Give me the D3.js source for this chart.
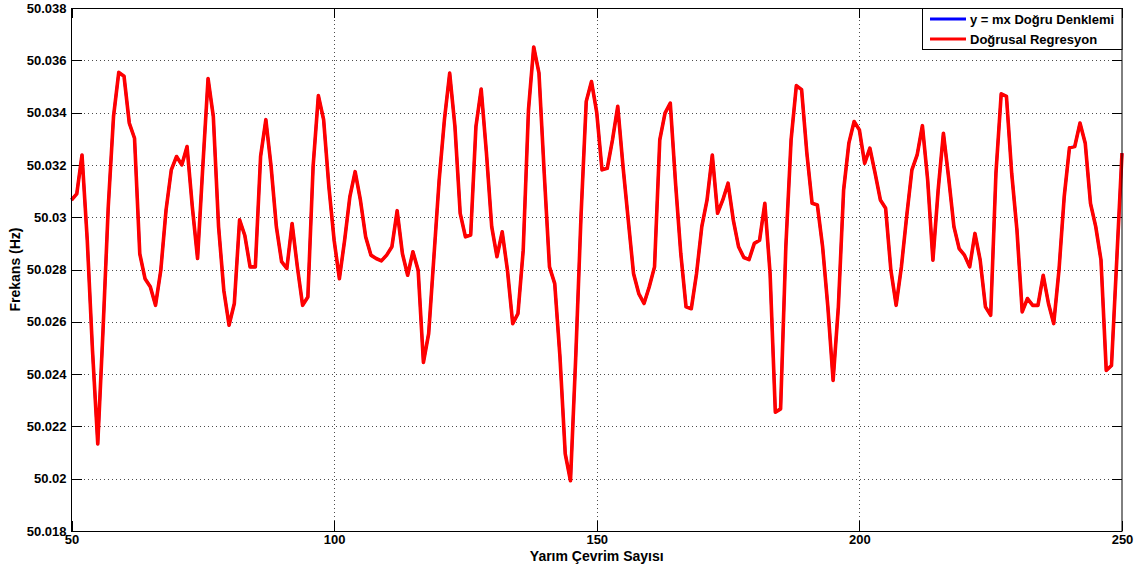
<!DOCTYPE html>
<html lang="tr">
<head>
<meta charset="UTF-8">
<title>Frekans - Yarım Çevrim Sayısı</title>
<style>
body {
  margin: 0;
  background: #fff;
}
svg {
  display: block;
  font-family: "Liberation Sans", Arial, sans-serif;
}
.tick text {
  font-size: 13px;
  font-weight: bold;
  fill: #000;
}
.tick line {
  stroke: #000;
  shape-rendering: crispEdges;
}
.grid line {
  stroke: #000;
  stroke-opacity: 0.7;
  stroke-dasharray: 1,3;
  shape-rendering: crispEdges;
}
.title {
  font-size: 14px;
  font-weight: bold;
}
.legend text {
  font-size: 13px;
  font-weight: bold;
}
</style>
</head>
<body>
<svg id="chart"></svg>
<script src="https://d3js.org/d3.v7.min.js"></script>
<script>
// half cycle index goes 50..250, one frequency per half cycle
var firstCycle = 50;
var lastCycle = 250;

// frequency values (Hz)
var frekans = [
  50.03066, 50.03089, 50.03238, 50.02912, 50.0249, 50.02133, 50.02567, 50.0304, 50.03385, 50.03554,
  50.03539, 50.0336, 50.03302, 50.0286, 50.02765, 50.02734, 50.02663, 50.02797, 50.03027, 50.03181,
  50.03232, 50.032, 50.0327, 50.0304, 50.02842, 50.03194, 50.0353, 50.03385, 50.02964, 50.0272,
  50.02587, 50.0267, 50.0299, 50.0293, 50.0281, 50.0281, 50.03232, 50.03373, 50.03194, 50.02964,
  50.0283, 50.02804, 50.02976, 50.0281, 50.02663, 50.02695, 50.03194, 50.03465, 50.03373, 50.03117,
  50.02912, 50.02765, 50.02912, 50.03079, 50.03174, 50.03066, 50.02925, 50.02855, 50.02842, 50.02833,
  50.02855, 50.02887, 50.03025, 50.02861, 50.02778, 50.02868, 50.02797, 50.02445, 50.02555, 50.02849,
  50.03143, 50.03373, 50.03551, 50.03347, 50.03015, 50.02925, 50.02932, 50.03347, 50.0349, 50.03245,
  50.02964, 50.02849, 50.02944, 50.02797, 50.02593, 50.02631, 50.02874, 50.0341, 50.03651, 50.03551,
  50.03168, 50.0281, 50.02746, 50.02465, 50.02095, 50.01992, 50.02465, 50.03002, 50.03443, 50.03519,
  50.034, 50.03181, 50.03187, 50.03296, 50.03424, 50.03194, 50.02989, 50.02785, 50.02708, 50.0267,
  50.02734, 50.0281, 50.03296, 50.03398, 50.03436, 50.0313, 50.02861, 50.02657, 50.0265, 50.02785,
  50.02964, 50.03066, 50.03238, 50.03015, 50.03066, 50.0313, 50.02989, 50.02887, 50.02846, 50.02838,
  50.029, 50.02912, 50.03053, 50.02785, 50.02254, 50.02267, 50.02887, 50.03296, 50.03503, 50.03488,
  50.03245, 50.03053, 50.03047, 50.02887, 50.02657, 50.02376, 50.02657, 50.03104, 50.03283, 50.03366,
  50.03334, 50.03206, 50.03264, 50.03168, 50.03066, 50.03034, 50.02797, 50.02663, 50.0281, 50.03002,
  50.03181, 50.03238, 50.0335, 50.03143, 50.02836, 50.03104, 50.03321, 50.0315, 50.02964, 50.0288,
  50.02855, 50.0281, 50.02938, 50.02836, 50.02657, 50.02625, 50.03168, 50.03472, 50.03462, 50.03168,
  50.02951, 50.02638, 50.02689, 50.02663, 50.02663, 50.02778, 50.0267, 50.02593, 50.02797, 50.03079,
  50.03266, 50.0327, 50.0336, 50.03283, 50.03053, 50.02964, 50.02836, 50.02414, 50.02433, 50.02836,
  50.03245
];

// the y = mx line lies right under the regression line
var dogruDenklemi = frekans;

var xTicks = [50, 100, 150, 200, 250];
var yTicks = [50.018, 50.02, 50.022, 50.024, 50.026, 50.028, 50.03, 50.032, 50.034, 50.036, 50.038];
var yTickLabels = ["50.018", "50.02", "50.022", "50.024", "50.026", "50.028", "50.03", "50.032", "50.034", "50.036", "50.038"];

var seriesNames = ["y = mx Doğru Denklemi", "Doğrusal Regresyon"];
var seriesColors = ["#0000ff", "#ff0000"];
var seriesWidths = [2.6, 3.6];

var totalWidth = 1144,
    totalHeight = 572;

var plot = { left: 71.5, right: 1122, top: 8, bottom: 531 };

var svg = d3.select("#chart")
  .attr("width", totalWidth)
  .attr("height", totalHeight);

svg.append("rect")
  .attr("width", totalWidth)
  .attr("height", totalHeight)
  .attr("fill", "#fff");

var x = d3.scaleLinear()
  .domain([firstCycle, lastCycle])
  .range([plot.left, plot.right]);

var y = d3.scaleLinear()
  .domain([50.018, 50.038])
  .range([plot.bottom, plot.top]);

var cycles = d3.range(firstCycle, lastCycle + 1);

// dotted grid
var grid = svg.append("g").attr("class", "grid");
grid.selectAll(".gy")
  .data(yTicks.slice(1, -1))
  .enter().append("line")
  .attr("x1", plot.left).attr("x2", plot.right)
  .attr("y1", function(d) { return Math.round(y(d)) + 0.5; })
  .attr("y2", function(d) { return Math.round(y(d)) + 0.5; });
grid.selectAll(".gx")
  .data(xTicks.slice(1, -1))
  .enter().append("line")
  .attr("y1", plot.top).attr("y2", plot.bottom)
  .attr("x1", function(d) { return Math.round(x(d)) + 0.5; })
  .attr("x2", function(d) { return Math.round(x(d)) + 0.5; });

// axes, ticks pointing inside like matlab
var fmtY = function(d) { return yTickLabels[yTicks.indexOf(d)]; };

var leftAxis = svg.append("g")
  .attr("transform", "translate(" + plot.left + ",0)")
  .call(d3.axisLeft(y).tickValues(yTicks).tickFormat(fmtY).tickSize(-10).tickPadding(5));
var rightAxis = svg.append("g")
  .attr("transform", "translate(" + plot.right + ",0)")
  .call(d3.axisRight(y).tickValues(yTicks).tickFormat("").tickSize(-10));
var bottomAxis = svg.append("g")
  .attr("transform", "translate(0," + plot.bottom + ")")
  .call(d3.axisBottom(x).tickValues(xTicks).tickFormat(d3.format("d")).tickSize(-10).tickPadding(4));
var topAxis = svg.append("g")
  .attr("transform", "translate(0," + plot.top + ")")
  .call(d3.axisTop(x).tickValues(xTicks).tickFormat("").tickSize(-10));

[leftAxis, rightAxis, bottomAxis, topAxis].forEach(function(a) {
  a.select(".domain").remove();
});

// lines
var line = d3.line()
  .x(function(d) { return x(d[0]); })
  .y(function(d) { return y(d[1]); });

[dogruDenklemi, frekans].forEach(function(vals, i) {
  svg.append("path")
    .datum(cycles.map(function(c, j) { return [c, vals[j]]; }))
    .attr("fill", "none")
    .attr("stroke", seriesColors[i])
    .attr("stroke-width", seriesWidths[i])
    .attr("stroke-linejoin", "round")
    .attr("d", line);
});

// box around the plot
svg.append("rect")
  .attr("x", plot.left)
  .attr("y", plot.top + 0.5)
  .attr("width", plot.right - plot.left)
  .attr("height", plot.bottom - plot.top)
  .attr("fill", "none")
  .attr("stroke", "#000")
  .attr("stroke-width", 1);

// axis titles
svg.append("text")
  .attr("class", "title")
  .attr("x", (plot.left + plot.right) / 2)
  .attr("y", 561)
  .attr("text-anchor", "middle")
  .text("Yarım Çevrim Sayısı");

svg.append("text")
  .attr("class", "title")
  .attr("transform", "translate(20," + ((plot.top + plot.bottom) / 2) + ") rotate(-90)")
  .attr("text-anchor", "middle")
  .text("Frekans (Hz)");

// legend
var legend = svg.append("g").attr("class", "legend");
legend.append("rect")
  .attr("x", 922.5).attr("y", plot.top + 0.5)
  .attr("width", plot.right - 922.5).attr("height", 41)
  .attr("fill", "#fff")
  .attr("stroke", "#000");

seriesNames.forEach(function(name, i) {
  var ly = 19 + i * 20;
  legend.append("line")
    .attr("x1", 930).attr("x2", 966)
    .attr("y1", ly).attr("y2", ly)
    .attr("stroke", seriesColors[i])
    .attr("stroke-width", 3);
  legend.append("text")
    .attr("x", 970)
    .attr("y", ly)
    .attr("dy", "0.35em")
    .text(name);
});
</script>
</body>
</html>
